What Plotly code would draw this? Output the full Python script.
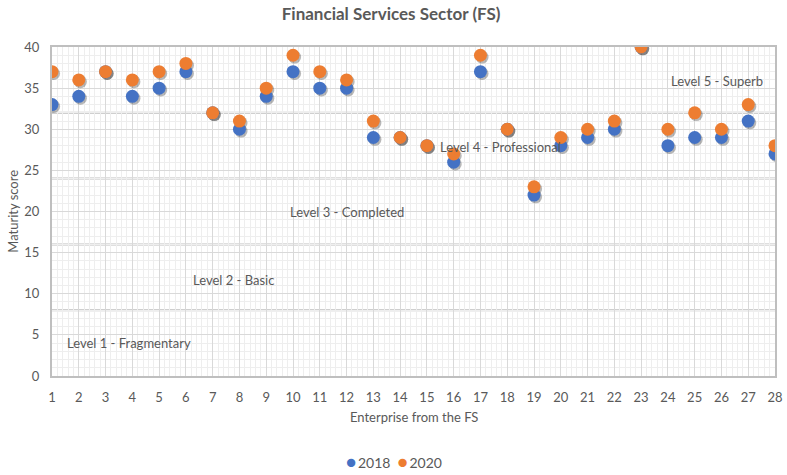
import plotly.graph_objects as go

enterprises = list(range(1, 29))
score_2018 = [33, 34, 37, 34, 35, 37, 32, 30, 34, 37, 35, 35, 29, 29, 28, 26, 37, 30, 22, 28, 29, 30, 40, 28, 29, 29, 31, 27]
score_2020 = [37, 36, 37, 36, 37, 38, 32, 31, 35, 39, 37, 36, 31, 29, 28, 27, 39, 30, 23, 29, 30, 31, 40, 30, 32, 30, 33, 28]
level_bounds = [8, 16, 24, 32]
level_labels = ["Level 1 - Fragmentary", "Level 2 - Basic", "Level 3 - Completed",
                "Level 4 - Professional", "Level 5 - Superb"]
level_label_pos = [(1.5, 4.0), (6.2, 11.7), (9.8, 20.0), (15.4, 27.8), (24.05, 35.9)]
series_names = ["2018", "2020"]

FONT = "Lato"
GRAY = "#595959"
BLUE = "#4472C4"
ORANGE = "#ED7D31"
colors = [BLUE, ORANGE]

fig = go.Figure()

shadow_dx, shadow_dy = 0.06, -0.22
for ys in (score_2018, score_2020):
    fig.add_trace(go.Scatter(
        x=[e + shadow_dx for e in enterprises], y=[v + shadow_dy for v in ys],
        mode="markers", marker=dict(size=13, color="rgba(0,0,0,0.28)"),
        showlegend=False, hoverinfo="skip"))

for name, ys, c in zip(series_names, (score_2018, score_2020), colors):
    fig.add_trace(go.Scatter(x=enterprises, y=ys, mode="markers", name=name,
                             marker=dict(size=13, color=c), showlegend=False))

for b in level_bounds:
    fig.add_shape(type="line", xref="paper", x0=0, x1=1, y0=b, y1=b,
                  line=dict(color="#bfbfbf", width=2), layer="below")

for txt, (lx, ly) in zip(level_labels, level_label_pos):
    fig.add_annotation(x=lx, y=ly, text=txt, showarrow=False, xanchor="left",
                       font=dict(family=FONT, size=13, color=GRAY))

fig.add_annotation(xref="paper", yref="paper", x=0.5, y=-0.125, yanchor="middle",
                   text="Enterprise from the FS", showarrow=False,
                   font=dict(family=FONT, size=13, color=GRAY))
fig.add_annotation(xref="paper", yref="paper", x=-0.055, xanchor="center", y=0.5,
                   text="Maturity score", textangle=-90, showarrow=False,
                   font=dict(family=FONT, size=13, color=GRAY))

# legend built as text
legend_text = "&#8194;".join(
    f"<span style='color:{c};font-size:17px'>●</span>&#8201;{n}" for n, c in zip(series_names, colors))
fig.add_annotation(xref="paper", yref="paper", x=0.473, y=-0.26, yanchor="middle",
                   xanchor="center", text=legend_text, showarrow=False,
                   font=dict(family=FONT, size=14, color=GRAY))

fig.update_layout(
    width=787, height=475,
    margin=dict(l=52, r=12, t=47, b=99, autoexpand=False),
    paper_bgcolor="white", plot_bgcolor="white",
    title=dict(text="<b>Financial Services Sector (FS)</b>", x=0.497, xanchor="center",
               y=0.97, yanchor="middle", font=dict(family=FONT, size=17, color=GRAY)),
    font=dict(family=FONT, size=13, color=GRAY),
    showlegend=False,
)
fig.update_xaxes(range=[1, 28], tickmode="linear", tick0=1, dtick=1, automargin=False,
                 showgrid=True, gridcolor="#d9d9d9", gridwidth=1,
                 minor=dict(dtick=0.2, showgrid=True, gridcolor="#eeeeee", gridwidth=1),
                 showline=True, linecolor="#bfbfbf", linewidth=2, mirror=True,
                 zeroline=False, ticks="", ticklabelstandoff=8,
                 tickfont=dict(family=FONT, size=13, color=GRAY))
fig.update_yaxes(range=[0, 40], tickmode="linear", tick0=0, dtick=5, automargin=False,
                 showgrid=True, gridcolor="#d9d9d9", gridwidth=1,
                 minor=dict(dtick=1, showgrid=True, gridcolor="#eeeeee", gridwidth=1),
                 showline=True, linecolor="#bfbfbf", linewidth=2, mirror=True,
                 zeroline=False, ticks="", ticklabelstandoff=8,
                 tickfont=dict(family=FONT, size=13, color=GRAY))

fig.write_html("out.html", config={"displayModeBar": False},
               post_script="document.body.style.margin='0';")
